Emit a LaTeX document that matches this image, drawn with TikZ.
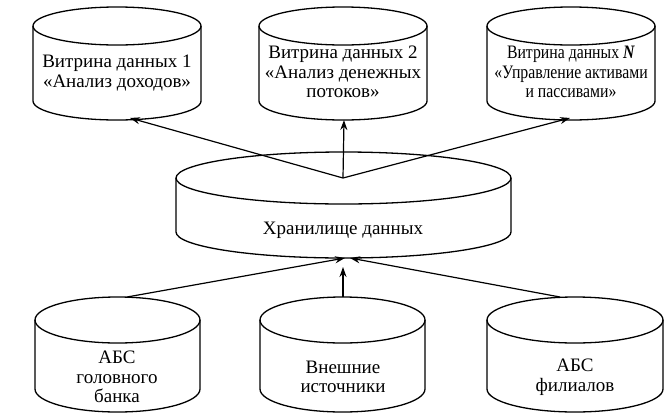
\documentclass[tikz,border=0pt]{standalone}
\usepackage{fontspec}
\setmainfont{Liberation Serif}
\newfontfamily\condensed[FakeStretch=0.83]{Liberation Serif}
\usetikzlibrary{arrows.meta}
\tikzset{
  cylline/.style={draw=black,line width=1.3pt},
  lbl/.style={align=center,font=\fontsize{19}{19.5}\selectfont,inner sep=0pt},
  conn/.style={draw=black,line width=1.2pt},
  arr/.style={conn,-{Stealth[length=10pt,width=7pt]}}
}
\newcommand\dbcyl[5]{%
  \pgfmathsetmacro\cx{(#1+#2)/2}\pgfmathsetmacro\rx{(#2-#1)/2}%
  \draw[cylline] (#1,#3) -- (#1,#4) arc[start angle=180,end angle=0,x radius=\rx,y radius=#5] -- (#2,#3);
  \draw[cylline] (\cx,#3) ellipse[x radius=\rx,y radius=#5];
}
\begin{document}
\begin{tikzpicture}[x=1pt,y=-1pt]
\useasboundingbox (0,0) rectangle (667,413);
% top cylinders
\dbcyl{33}{201}{26}{101}{19}
\dbcyl{259}{427}{26}{101}{19}
\dbcyl{487}{655}{26}{101}{19}
% storage
\dbcyl{176}{511}{178}{232}{26}
% bottom cylinders
\dbcyl{35}{200}{320}{389}{23}
\dbcyl{260}{425}{320}{389}{23}
\dbcyl{487}{663}{320}{389}{23}
% labels
\node[lbl] (m1) at (117,73) {Витрина данных 1\\«Анализ доходов»};
\node[lbl] (m2) at (343,72) {Витрина данных 2\\«Анализ денежных\\потоков»};
\node[lbl] (mN) at (571,72) {\condensed Витрина данных \textbf{\textit{N}}\\\condensed«Управление активами\\\condensed и пассивами»};
\node[lbl] (dw) at (343,230) {Хранилище данных};
\node[lbl] (s1) at (117,377) {АБС\\головного\\банка};
\node[lbl] (s2) at (343,377) {Внешние\\источники};
\node[lbl] (s3) at (575,377) {АБС\\филиалов};
% connection points
\coordinate (hub) at (343,178);
\coordinate (m1in) at (130,118);
\coordinate (m2in) at (344,120);
\coordinate (mNin) at (570,118);
\coordinate (s1out) at (127,297);
\coordinate (s2out) at (343,297);
\coordinate (s3out) at (560,297);
\coordinate (dwinL) at (345,258);
\coordinate (dwinR) at (350,258);
\coordinate (dwinM) at (343,267);
% connectors
\draw[arr] (hub) -- (m1in);
\draw[arr] (hub) -- (m2in);
\draw[arr] (hub) -- (mNin);
\draw[arr] (s1out) -- (dwinL);
\draw[arr] (s3out) -- (dwinR);
\draw[arr] (s2out) -- (dwinM);
\end{tikzpicture}
\end{document}
